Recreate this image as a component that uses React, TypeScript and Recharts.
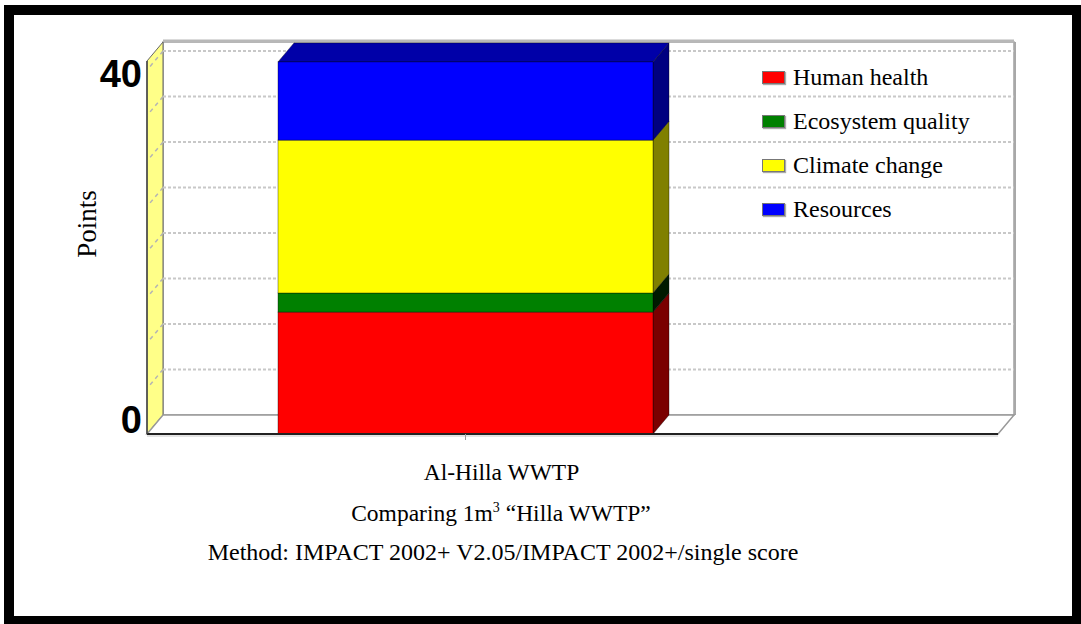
import React from 'react';
import { BarChart, Bar, XAxis, YAxis, CartesianGrid } from 'recharts';

// values (points, single score)
const categories = ['Al-Hilla WWTP'];
const humanHealth = [13.4];
const ecosystemQuality = [2.1];
const climateChange = [16.8];
const resources = [8.6];
const yTickValues = [0, 40];
const gridValues = [5, 10, 15, 20, 25, 30, 35, 40];
const Y_MAX = 41;

const series = [
  { key: 'humanHealth', name: 'Human health', values: humanHealth, color: '#ff0000', side: '#7a0000', top: '#b00000' },
  { key: 'ecosystemQuality', name: 'Ecosystem quality', values: ecosystemQuality, color: '#008000', side: '#001a00', top: '#005a00' },
  { key: 'climateChange', name: 'Climate change', values: climateChange, color: '#ffff00', side: '#808000', top: '#b0b000' },
  { key: 'resources', name: 'Resources', values: resources, color: '#0000ff', side: '#000080', top: '#0000a8' },
];

const data = categories.map((name, i) => {
  const row: Record<string, string | number> = { name };
  series.forEach((s) => (row[s.key] = s.values[i]));
  return row;
});

// layout of the fake 3d box
const W = 1081;
const H = 624;
const LEFT = 147;
const TOP = 61;
const RIGHT = 998;
const BOTTOM = 434;
const DX = 16;
const DY = 19;

const serif = '"Liberation Serif", "Times New Roman", serif';

const Bar3D = (props: any) => {
  const { x, y, width, height, fill, side, top, showTop } = props;
  if (!height || height <= 0 || isNaN(x) || isNaN(y)) return null;
  const edge = 'rgba(0,0,0,0.45)';
  return (
    <g>
      <polygon
        points={`${x + width},${y} ${x + width + DX},${y - DY} ${x + width + DX},${y + height - DY} ${x + width},${y + height}`}
        fill={side}
        stroke={edge}
        strokeWidth={0.8}
      />
      {showTop && (
        <polygon
          points={`${x},${y} ${x + DX},${y - DY} ${x + width + DX},${y - DY} ${x + width},${y}`}
          fill={top}
          stroke={edge}
          strokeWidth={0.8}
        />
      )}
      <rect x={x} y={y} width={width} height={height} fill={fill} stroke={edge} strokeWidth={0.8} />
    </g>
  );
};

const ValueTick = (props: any) => {
  const { x, y, payload } = props;
  const dy = payload.value === 0 ? -1 : 17;
  return (
    <text
      x={x}
      y={y + dy}
      textAnchor="end"
      fontFamily='"Liberation Sans", Arial, sans-serif'
      fontWeight="bold"
      fontSize={38}
      fill="#000"
    >
      {payload.value}
    </text>
  );
};

const CategoryTick = (props: any) => {
  const { x, y, payload } = props;
  return (
    <text x={x + 36} y={y + 38} textAnchor="middle" fontFamily={serif} fontSize={23.5} fill="#000">
      {payload.value}
    </text>
  );
};

const GridLine = (props: any) => (
  <g>
    <line x1={props.x1} y1={props.y1} x2={props.x2} y2={props.y2} stroke="#c8c8c8" strokeWidth={2} strokeDasharray="3 2" />
    <line x1={props.x1} y1={props.y1} x2={props.x1 - DX} y2={props.y1 + DY} stroke="#b4b4b4" strokeWidth={1.5} strokeDasharray="4 4" />
  </g>
);

// gridlines sit on the back wall: the y scale shifted up by the depth
const backGridYs = (args: any) => {
  const { yAxis, offset } = args || {};
  const sc = yAxis && yAxis.scale;
  let f: (v: number) => number;
  if (typeof sc === 'function') f = sc;
  else if (sc && typeof sc.map === 'function') f = (v) => sc.map(v);
  else {
    const top = offset && offset.top != null ? offset.top : TOP;
    const h = offset && offset.height != null ? offset.height : BOTTOM - TOP;
    f = (v) => top + h * (1 - v / Y_MAX);
  }
  return gridValues.map((v) => f(v) - DY);
};

const Frame = () => (
  <svg width={W} height={H} style={{ position: 'absolute', left: 0, top: 0 }}>
    <rect x={LEFT + DX} y={TOP - DY} width={RIGHT - LEFT} height={BOTTOM - TOP} fill="#fff" stroke="#a0a0a0" strokeWidth={1.5} />
    <line x1={LEFT + DX} y1={TOP - DY - 1} x2={RIGHT + DX} y2={TOP - DY - 1} stroke="#b8b8b8" strokeWidth={3} />
    <line x1={RIGHT + DX + 1} y1={TOP - DY} x2={RIGHT + DX + 1} y2={BOTTOM - DY} stroke="#a8a8a8" strokeWidth={2} />
    <polygon
      points={`${LEFT},${TOP} ${LEFT + DX},${TOP - DY} ${LEFT + DX},${BOTTOM - DY} ${LEFT},${BOTTOM}`}
      fill="#ffff88"
      stroke="#666"
      strokeWidth={1}
    />
    <polygon
      points={`${LEFT},${BOTTOM} ${LEFT + DX},${BOTTOM - DY} ${RIGHT + DX},${BOTTOM - DY} ${RIGHT},${BOTTOM}`}
      fill="#fff"
      stroke="#999"
      strokeWidth={1.5}
    />
    <line x1={LEFT} y1={BOTTOM + 2} x2={RIGHT} y2={BOTTOM + 2} stroke="#c8c8c8" strokeWidth={1} />
  </svg>
);

const Legend = () => (
  <div style={{ position: 'absolute', left: 762, top: 55 }}>
    {series.map((s) => (
      <div key={s.key} style={{ height: 44, display: 'flex', alignItems: 'center' }}>
        <div
          style={{
            width: 23,
            height: 13,
            background: s.color,
            border: '1px solid #777',
            boxSizing: 'border-box',
            boxShadow: '1px 1px 1px #aaa',
            marginRight: 8,
          }}
        />
        <span style={{ fontFamily: serif, fontSize: 24, lineHeight: 1, color: '#000' }}>{s.name}</span>
      </div>
    ))}
  </div>
);

export default function App() {
  return (
    <div style={{ position: 'absolute', left: 0, top: 0, width: W, height: H, overflow: 'hidden', background: '#fff' }}>
      <Frame />
      <div style={{ position: 'absolute', left: 0, top: 0 }}>
        <BarChart width={W} height={H} data={data} margin={{ top: TOP, right: W - RIGHT, bottom: H - BOTTOM - 30, left: LEFT - 60 }}>
          <CartesianGrid
            x={LEFT + DX}
            y={TOP - DY}
            width={RIGHT - LEFT}
            height={BOTTOM - TOP}
            vertical={false}
            horizontal={(p: any) => <GridLine key={`g-${p.index}`} {...p} />}
            horizontalCoordinatesGenerator={backGridYs}
          />
          <XAxis
            dataKey="name"
            height={30}
            padding={{ left: 0, right: 214 }}
            axisLine={{ stroke: '#222', strokeWidth: 2 }}
            tickLine={{ stroke: '#999' }}
            tickSize={6}
            tick={<CategoryTick />}
            interval={0}
          />
          <YAxis
            width={60}
            domain={[0, Y_MAX]}
            ticks={yTickValues}
            axisLine={{ stroke: '#444', strokeWidth: 1.5 }}
            tickLine={false}
            tickSize={0}
            tickMargin={5}
            tick={<ValueTick />}
          />
          {series.map((s, i) => (
            <Bar
              key={s.key}
              dataKey={s.key}
              name={s.name}
              stackId="total"
              fill={s.color}
              barSize={375}
              isAnimationActive={false}
              shape={(p: any) => <Bar3D {...p} side={s.side} top={s.top} showTop={i === series.length - 1} />}
            />
          ))}
        </BarChart>
      </div>
      <Legend />
      <svg width={W} height={H} style={{ position: 'absolute', left: 0, top: 0, pointerEvents: 'none' }}>
        <text x={87} y={224} transform="rotate(-90 87 224)" textAnchor="middle" dominantBaseline="central" fontFamily={serif} fontSize={27} fill="#000">
          Points
        </text>
        <text x={501} y={521} textAnchor="middle" fontFamily={serif} fontSize={23.5} fill="#000">
          Comparing 1m<tspan dy={-9} fontSize={14}>3</tspan>
          <tspan dy={9}> “Hilla WWTP”</tspan>
        </text>
        <text x={503} y={560} textAnchor="middle" fontFamily={serif} fontSize={24} fill="#000">
          Method: IMPACT 2002+ V2.05/IMPACT 2002+/single score
        </text>
      </svg>
      <div
        style={{
          position: 'absolute',
          left: 4,
          top: 5,
          width: W + 1 - 4,
          height: H + 2 - 5,
          border: '10px solid #000',
          boxSizing: 'border-box',
        }}
      />
    </div>
  );
}
